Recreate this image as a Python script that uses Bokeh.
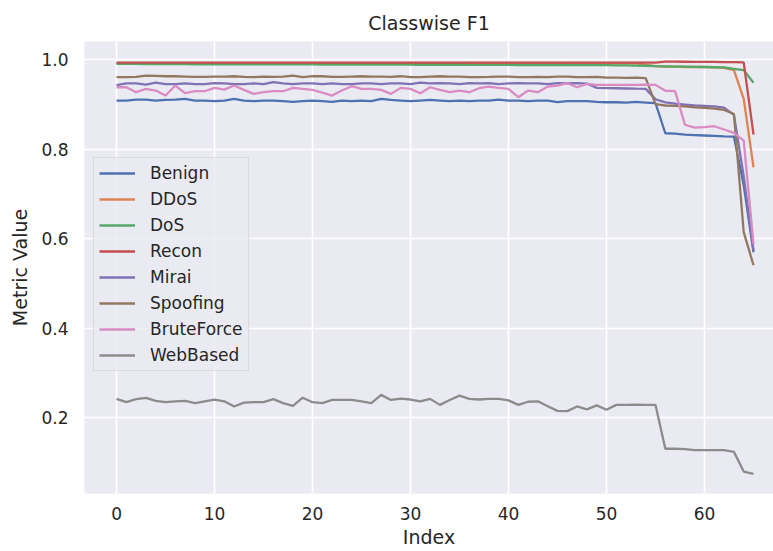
from bokeh.plotting import figure
from bokeh.models import Range1d, FixedTicker, NumeralTickFormatter, Legend, LegendItem
from bokeh.embed import file_html
from bokeh.resources import INLINE

# F1 score per class over 66 consecutive evaluation runs
index = list(range(66))

benign = [0.9091, 0.9091, 0.9113, 0.9113, 0.9091, 0.9105, 0.9113, 0.9128, 0.9091, 0.9091,
          0.9076, 0.9091, 0.9128, 0.9091, 0.9076, 0.9091, 0.9091, 0.9076, 0.9061, 0.9076,
          0.9091, 0.9076, 0.9061, 0.9091, 0.9076, 0.9091, 0.9076, 0.9128, 0.9105, 0.9091,
          0.9076, 0.9091, 0.9105, 0.9091, 0.9076, 0.9091, 0.9076, 0.9091, 0.9091, 0.9113,
          0.9091, 0.9091, 0.9076, 0.9091, 0.9091, 0.9053, 0.9076, 0.9076, 0.9076, 0.9061,
          0.9053, 0.9053, 0.9046, 0.9061, 0.9046, 0.9031, 0.8360, 0.8350, 0.8330, 0.8320,
          0.8310, 0.8300, 0.8290, 0.8285, 0.7200, 0.5700]

ddos = [0.9920] * 54 + [0.9890, 0.9860, 0.9850, 0.9850, 0.9840, 0.9840, 0.9840, 0.9830,
                       0.9820, 0.9770, 0.9130, 0.7600]

dos = [0.9910, 0.9910, 0.9910, 0.9905, 0.9905, 0.9905, 0.9905, 0.9905, 0.9900, 0.9900,
       0.9900, 0.9900, 0.9900, 0.9900, 0.9900, 0.9900, 0.9898, 0.9898, 0.9898, 0.9898,
       0.9898, 0.9895, 0.9895, 0.9895, 0.9895, 0.9895, 0.9893, 0.9893, 0.9893, 0.9893,
       0.9893, 0.9890, 0.9890, 0.9890, 0.9890, 0.9890, 0.9888, 0.9888, 0.9888, 0.9888,
       0.9888, 0.9885, 0.9885, 0.9885, 0.9885, 0.9885, 0.9882, 0.9882, 0.9882, 0.9880,
       0.9880, 0.9878, 0.9875, 0.9872, 0.9868, 0.9860, 0.9855, 0.9850, 0.9848, 0.9845,
       0.9840, 0.9835, 0.9830, 0.9800, 0.9770, 0.9490]

recon = [0.9940] * 56 + [0.9960, 0.9960, 0.9958, 0.9955, 0.9955, 0.9953, 0.9950, 0.9948,
                        0.9945, 0.8330]

mirai = [0.9437, 0.9474, 0.9474, 0.9444, 0.9489, 0.9459, 0.9459, 0.9474, 0.9459, 0.9459,
         0.9482, 0.9474, 0.9459, 0.9459, 0.9474, 0.9459, 0.9500, 0.9474, 0.9459, 0.9474,
         0.9474, 0.9459, 0.9474, 0.9459, 0.9459, 0.9474, 0.9474, 0.9459, 0.9474, 0.9474,
         0.9459, 0.9489, 0.9474, 0.9482, 0.9474, 0.9459, 0.9482, 0.9474, 0.9482, 0.9459,
         0.9474, 0.9482, 0.9474, 0.9474, 0.9459, 0.9482, 0.9474, 0.9482, 0.9470, 0.9374,
         0.9370, 0.9365, 0.9360, 0.9355, 0.9352, 0.9120, 0.9050, 0.9020, 0.9000, 0.8980,
         0.8970, 0.8960, 0.8930, 0.8770, 0.7400, 0.5740]

spoofing = [0.9612, 0.9612, 0.9619, 0.9649, 0.9642, 0.9634, 0.9634, 0.9627, 0.9619, 0.9619,
            0.9627, 0.9627, 0.9634, 0.9619, 0.9612, 0.9627, 0.9619, 0.9627, 0.9649, 0.9612,
            0.9634, 0.9634, 0.9619, 0.9619, 0.9627, 0.9634, 0.9627, 0.9627, 0.9619, 0.9634,
            0.9612, 0.9612, 0.9627, 0.9634, 0.9627, 0.9627, 0.9612, 0.9612, 0.9619, 0.9627,
            0.9627, 0.9612, 0.9612, 0.9619, 0.9612, 0.9627, 0.9627, 0.9612, 0.9612, 0.9619,
            0.9604, 0.9604, 0.9597, 0.9604, 0.9590, 0.9010, 0.8980, 0.8970, 0.8960, 0.8940,
            0.8930, 0.8910, 0.8880, 0.8790, 0.6150, 0.5410]

bruteforce = [0.9388, 0.9388, 0.9277, 0.9351, 0.9314, 0.9202, 0.9426, 0.9254, 0.9299, 0.9299,
              0.9374, 0.9336, 0.9426, 0.9329, 0.9240, 0.9277, 0.9299, 0.9299, 0.9374, 0.9351,
              0.9329, 0.9269, 0.9202, 0.9314, 0.9411, 0.9351, 0.9351, 0.9329, 0.9240, 0.9374,
              0.9351, 0.9254, 0.9388, 0.9329, 0.9277, 0.9314, 0.9277, 0.9366, 0.9403, 0.9374,
              0.9351, 0.9165, 0.9314, 0.9277, 0.9403, 0.9426, 0.9478, 0.9388, 0.9463, 0.9441,
              0.9441, 0.9441, 0.9441, 0.9441, 0.9448, 0.9441, 0.9310, 0.9300, 0.8550, 0.8487,
              0.8495, 0.8517, 0.8443, 0.8368, 0.8197, 0.5890]

webbased = [0.2424, 0.2350, 0.2420, 0.2447, 0.2380, 0.2350, 0.2370, 0.2380, 0.2330, 0.2370,
            0.2410, 0.2370, 0.2253, 0.2340, 0.2350, 0.2350, 0.2420, 0.2330, 0.2270, 0.2450,
            0.2350, 0.2330, 0.2400, 0.2400, 0.2400, 0.2370, 0.2330, 0.2514, 0.2400, 0.2430,
            0.2410, 0.2370, 0.2424, 0.2290, 0.2400, 0.2498, 0.2424, 0.2410, 0.2424, 0.2424,
            0.2390, 0.2290, 0.2360, 0.2370, 0.2260, 0.2156, 0.2150, 0.2255, 0.2190, 0.2280,
            0.2180, 0.2290, 0.2290, 0.2297, 0.2290, 0.2290, 0.1310, 0.1310, 0.1300, 0.1280,
            0.1280, 0.1280, 0.1280, 0.1240, 0.0800, 0.0750]

class_names = ["Benign", "DDoS", "DoS", "Recon", "Mirai", "Spoofing", "BruteForce", "WebBased"]
class_scores = [benign, ddos, dos, recon, mirai, spoofing, bruteforce, webbased]
palette = ["#4C72B0", "#DD8452", "#55A868", "#C44E52", "#8172B3", "#937860", "#DA8BC3", "#8C8C8C"]

x_ticks = [0, 10, 20, 30, 40, 50, 60]
y_ticks = [0.2, 0.4, 0.6, 0.8, 1.0]

FONT = "DejaVu Sans"
TEXT = "#262626"

p = figure(width=773, height=551, output_backend="svg", toolbar_location=None,
           x_range=Range1d(-3.27, 67.04), y_range=Range1d(0.031, 1.041),
           min_border_left=84, min_border_right=0, min_border_top=41, min_border_bottom=58,
           title="Classwise F1")

p.background_fill_color = "#EAEAF2"
p.border_fill_color = "white"
p.outline_line_color = None

p.title.align = "center"
p.title.text_font = FONT
p.title.text_font_size = "19px"
p.title.text_font_style = "normal"
p.title.text_color = TEXT
p.title.standoff = 15

for ax in (p.xaxis, p.yaxis):
    ax.axis_line_color = None
    ax.major_tick_line_color = None
    ax.minor_tick_line_color = None
    ax.major_tick_out = 0
    ax.major_tick_in = 0
    ax.major_label_text_font = FONT
    ax.major_label_text_font_size = "17px"
    ax.major_label_text_color = TEXT
    ax.axis_label_text_font = FONT
    ax.axis_label_text_font_size = "19px"
    ax.axis_label_text_font_style = "normal"
    ax.axis_label_text_color = TEXT

p.xaxis.ticker = FixedTicker(ticks=x_ticks)
p.yaxis.ticker = FixedTicker(ticks=y_ticks)
p.yaxis.formatter = NumeralTickFormatter(format="0.0")
p.xaxis.axis_label = "Index"
p.yaxis.axis_label = "Metric Value"
p.xaxis.major_label_standoff = 13
p.yaxis.major_label_standoff = 16
p.xaxis.axis_label_standoff = 3
p.yaxis.axis_label_standoff = 7

p.xgrid.grid_line_color = "white"
p.ygrid.grid_line_color = "white"
p.xgrid.grid_line_width = 1.6
p.ygrid.grid_line_width = 1.6

items = []
for name, scores, color in zip(class_names, class_scores, palette):
    r = p.line(index, scores, line_color=color, line_width=2.3)
    items.append(LegendItem(label=name, renderers=[r]))

legend = Legend(items=items, location=(9, 122))
legend.background_fill_color = "#EAEAF2"
legend.background_fill_alpha = 0.8
legend.border_line_color = "#CCCCCC"
legend.border_line_width = 1
legend.label_text_font = FONT
legend.label_text_font_size = "17px"
legend.label_text_color = TEXT
legend.glyph_width = 36
legend.glyph_height = 20
legend.label_standoff = 15
legend.spacing = 6
legend.padding = 5
legend.margin = 0
p.add_layout(legend, "center")

open("out.html", "w").write(file_html(p, INLINE))
